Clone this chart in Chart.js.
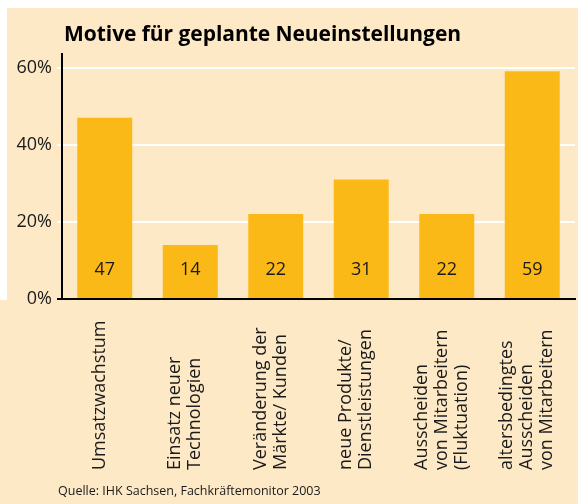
<!DOCTYPE html>
<html><head><meta charset="utf-8">
<script src="https://cdn.jsdelivr.net/npm/chart.js@4/dist/chart.umd.min.js"></script>
<style>html,body{margin:0;padding:0;background:#fff;} canvas{display:block}</style>
</head><body><canvas id="c" width="578" height="504"></canvas>
<script>
const categories = [
  ["Umsatzwachstum"],
  ["Einsatz neuer", "Technologien"],
  ["Veränderung der", "Märkte/ Kunden"],
  ["neue Produkte/", "Dienstleistungen"],
  ["Ausscheiden", "von Mitarbeitern", "(Fluktuation)"],
  ["altersbedingtes", "Ausscheiden", "von Mitarbeitern"]
];
const values = [47, 14, 22, 31, 22, 59];
const yTicks = [0, 20, 40, 60];
const titleText = "Motive für geplante Neueinstellungen";
const sourceText = "Quelle: IHK Sachsen, Fachkräftemonitor 2003";

const CREAM = '#FEE9C6', BAR = '#FBB917', INK = '#1a1a1a';
const FONT = '"Open Sans", "Noto Sans", sans-serif';

const decor = {
  id: 'decor',
  beforeDraw(chart) {
    const ctx = chart.ctx;
    ctx.save();
    ctx.fillStyle = '#ffffff';
    ctx.fillRect(0, 0, chart.width, chart.height);
    ctx.fillStyle = CREAM;
    ctx.fillRect(7, 8, chart.width - 7, chart.height - 8);
    ctx.fillRect(0, 300, 7, chart.height - 300);
    ctx.restore();
  },
  afterDatasetsDraw(chart) {
    const ctx = chart.ctx, ys = chart.scales.y;
    const meta = chart.getDatasetMeta(0);
    ctx.save();
    ctx.font = '18px ' + FONT;
    ctx.fillStyle = INK;
    ctx.textAlign = 'center';
    ctx.textBaseline = 'middle';
    meta.data.forEach((el, i) => {
      ctx.fillText(String(values[i]), el.x, ys.getPixelForValue(0) - 29);
    });
    ctx.restore();
  },
  afterDraw(chart) {
    const ctx = chart.ctx, xs = chart.scales.x, ca = chart.chartArea;
    ctx.save();
    // title
    ctx.font = 'bold 21px ' + FONT;
    ctx.fillStyle = '#000';
    ctx.textAlign = 'left';
    ctx.textBaseline = 'alphabetic';
    const w = ctx.measureText(titleText).width;
    if (w > 397) ctx.letterSpacing = ((397 - w) / (titleText.length - 1)).toFixed(2) + 'px';
    ctx.fillText(titleText, 64, 41);
    ctx.letterSpacing = '0px';
    // source
    ctx.font = '12.5px ' + FONT;
    ctx.fillStyle = INK;
    ctx.textBaseline = 'middle';
    ctx.fillText(sourceText, 58, 491);
    // category labels
    ctx.font = '18px ' + FONT;
    ctx.textAlign = 'left';
    ctx.textBaseline = 'middle';
    categories.forEach((lines, i) => {
      const cx = xs.getPixelForValue(i);
      lines.forEach((ln, j) => {
        const x = cx + (j - (lines.length - 1) / 2) * 20 - 5;
        ctx.save();
        ctx.translate(x, ca.bottom + 171);
        ctx.rotate(-Math.PI / 2);
        ctx.fillText(ln, 0, 0);
        ctx.restore();
      });
    });
    ctx.restore();
  }
};

new Chart(document.getElementById('c'), {
  type: 'bar',
  data: {
    labels: categories.map(l => l.join(' ')),
    datasets: [{
      data: values,
      backgroundColor: BAR,
      borderWidth: 0,
      categoryPercentage: 0.643,
      barPercentage: 1
    }]
  },
  options: {
    responsive: false,
    devicePixelRatio: 1,
    animation: false,
    layout: { padding: { top: 54, right: 3, left: 0, bottom: 0 } },
    plugins: { legend: { display: false }, tooltip: { enabled: false }, title: { display: false } },
    scales: {
      x: {
        z: 1,
        offset: true,
        grid: { display: false, drawTicks: false },
        border: { display: true, color: '#000', width: 2 },
        ticks: { display: false },
        afterFit: s => { s.height = 504 - 299; }
      },
      y: {
        min: 0,
        max: 63.5,
        afterBuildTicks: s => { s.ticks = yTicks.map(v => ({ value: v })); },
        ticks: {
          callback: v => v + '%',
          font: { family: FONT, size: 18 },
          color: INK,
          padding: 5
        },
        grid: {
          color: c => (c.tick && c.tick.value === 0) ? 'rgba(0,0,0,0)' : '#ffffff',
          tickColor: c => (c.tick && c.tick.value === 0) ? '#000000' : '#ffffff',
          lineWidth: 2,
          tickLength: 5
        },
        border: { display: true, color: '#000', width: 2 },
        afterFit: s => { s.width = 62; }
      }
    }
  },
  plugins: [decor]
});
</script>
</body></html>
